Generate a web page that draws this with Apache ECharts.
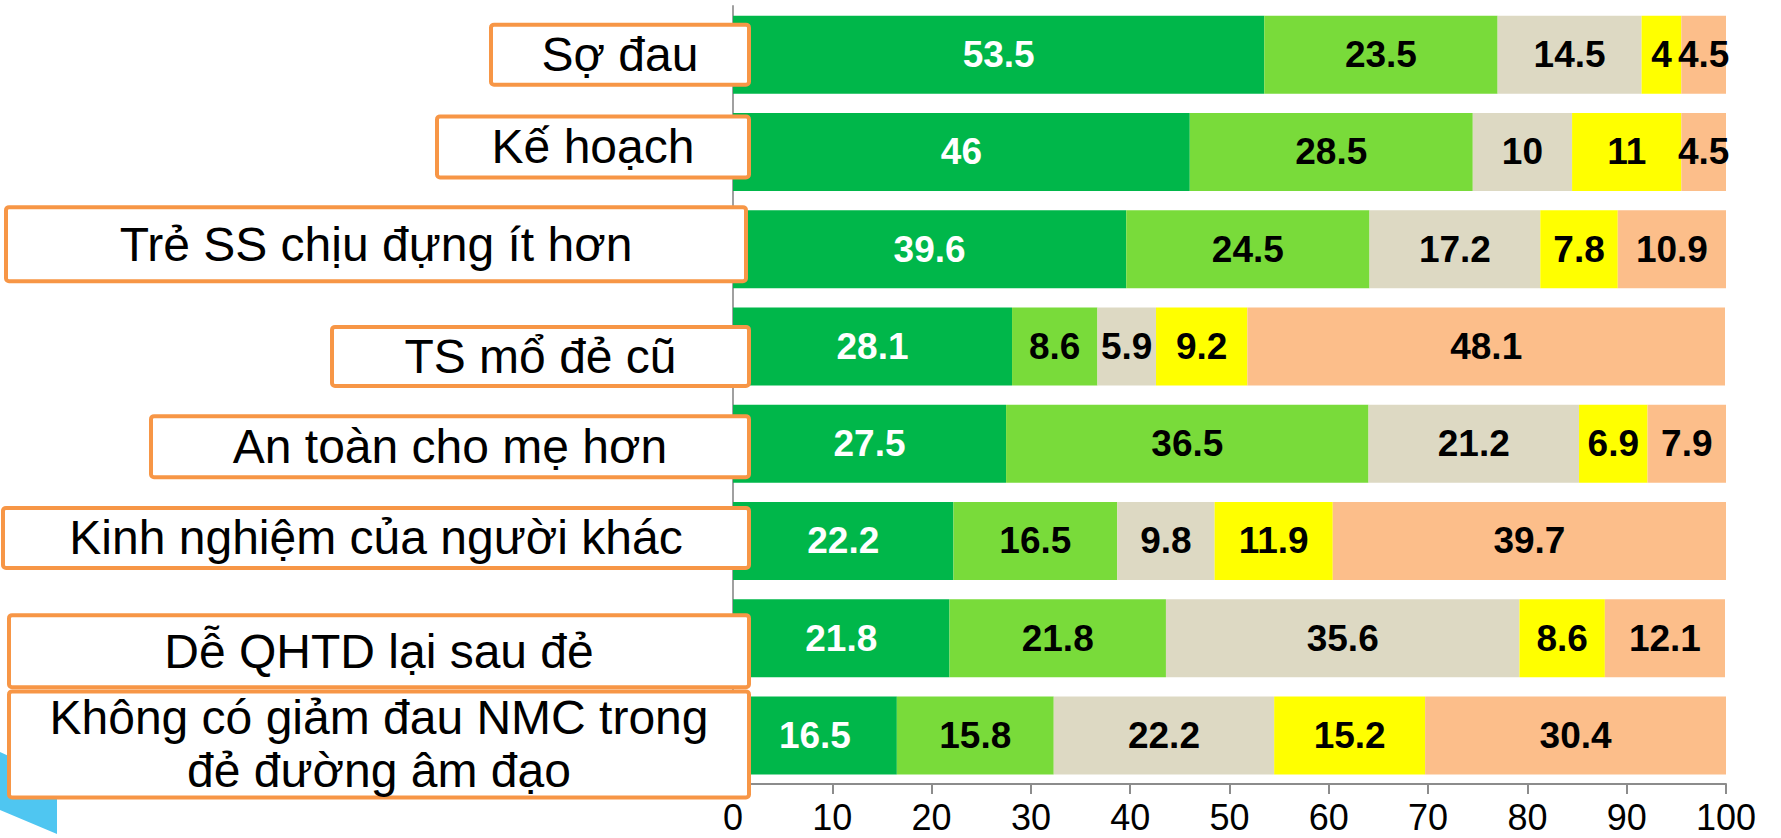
<!DOCTYPE html>
<html>
<head>
<meta charset="utf-8">
<script src="https://cdn.jsdelivr.net/npm/echarts@6/dist/echarts.min.js"></script>
<style>
  html, body { margin: 0; padding: 0; background: #ffffff; }
  #chart { width: 1781px; height: 838px; }
</style>
</head>
<body>
<div id="chart"></div>
<script>
// ---- data ----
const categories = [
  'Sợ đau',
  'Kế hoạch',
  'Trẻ SS chịu đựng ít hơn',
  'TS mổ đẻ cũ',
  'An toàn cho mẹ hơn',
  'Kinh nghiệm của người khác',
  'Dễ QHTD lại sau đẻ',
  'Không có giảm đau NMC trong\nđẻ đường âm đạo'
];
const series1 = [53.5, 46, 39.6, 28.1, 27.5, 22.2, 21.8, 16.5];
const series2 = [23.5, 28.5, 24.5, 8.6, 36.5, 16.5, 21.8, 15.8];
const series3 = [14.5, 10, 17.2, 5.9, 21.2, 9.8, 35.6, 22.2];
const series4 = [4, 11, 7.8, 9.2, 6.9, 11.9, 8.6, 15.2];
const series5 = [4.5, 4.5, 10.9, 48.1, 7.9, 39.7, 12.1, 30.4];
const xTicks = [0, 10, 20, 30, 40, 50, 60, 70, 80, 90, 100];

// ---- styling (label boxes: width, height, vertical shift, overhang right of axis) ----
const boxLayout = [
  { w: 258, h: 60, dy: 0,  over: 16 },
  { w: 312, h: 61, dy: -5, over: 16 },
  { w: 740, h: 74, dy: -5, over: 13 },
  { w: 417, h: 59, dy: 10, over: 16 },
  { w: 598, h: 61, dy: 3,  over: 16 },
  { w: 746, h: 60, dy: -3, over: 16 },
  { w: 740, h: 72, dy: 13, over: 16 },
  { w: 740, h: 106, dy: 9, over: 16 }
];
const colors = ['#00B74A', '#79DB3A', '#DDD9C3', '#FFFF00', '#FCBE8A'];
const FONT = '"Liberation Sans", Arial, Helvetica, sans-serif';

const chart = echarts.init(document.getElementById('chart'), null, { renderer: 'svg' });

const seriesValues = [series1, series2, series3, series4, series5];
const barSeries = seriesValues.map((vals, k) => ({
  name: 'S' + (k + 1),
  type: 'bar',
  stack: 'total',
  barWidth: 78,
  data: vals,
  itemStyle: { color: colors[k] },
  label: {
    show: true,
    position: 'inside',
    color: k === 0 ? '#ffffff' : '#000000',
    fontFamily: FONT,
    fontWeight: 'bold',
    fontSize: 37,
    formatter: p => String(p.value)
  }
}));

const labelSeries = {
  type: 'custom',
  name: 'labels',
  z: 10,
  clip: false,
  silent: true,
  encode: { x: 0, y: 1 },
  data: categories.map((c, i) => [0, i]),
  renderItem: function (params, api) {
    const i = params.dataIndex;
    const p = api.coord([0, api.value(1)]);
    const L = boxLayout[i];
    const right = p[0] + L.over;
    const cy = p[1] + L.dy;
    return {
      type: 'group',
      children: [
        {
          type: 'rect',
          shape: { x: right - L.w, y: cy - L.h / 2, width: L.w, height: L.h, r: 3 },
          style: { fill: '#ffffff', stroke: '#F79646', lineWidth: 4 }
        },
        {
          type: 'text',
          style: {
            text: categories[i],
            x: right - L.w / 2,
            y: cy,
            align: 'center',
            verticalAlign: 'middle',
            fontFamily: FONT,
            fontSize: 48,
            lineHeight: 53,
            fill: '#000000'
          }
        }
      ]
    };
  }
};

const option = {
  animation: false,
  backgroundColor: '#ffffff',
  grid: { left: 733, right: 55, top: 6, bottom: 54, containLabel: false },
  xAxis: {
    type: 'value',
    min: xTicks[0],
    max: xTicks[xTicks.length - 1],
    interval: xTicks[1] - xTicks[0],
    axisLine: { show: true, lineStyle: { color: '#8c8c8c', width: 2 } },
    axisTick: { show: true, length: 10, lineStyle: { color: '#8c8c8c', width: 2 } },
    splitLine: { show: false },
    axisLabel: {
      color: '#000000',
      fontFamily: FONT,
      fontSize: 36,
      lineHeight: 34,
      margin: 16,
      formatter: v => String(v)
    }
  },
  yAxis: {
    type: 'category',
    inverse: true,
    data: categories,
    axisLine: { show: true, lineStyle: { color: '#a0a0a0', width: 2 } },
    axisTick: { show: false },
    axisLabel: { show: false },
    splitLine: { show: false }
  },
  graphic: [
    {
      type: 'polygon',
      z: 1,
      shape: { points: [[0, 752], [57, 778], [57, 834], [0, 810]] },
      style: { fill: '#4FC6F1' }
    }
  ],
  series: barSeries.concat([labelSeries])
};

chart.setOption(option);
</script>
</body>
</html>
